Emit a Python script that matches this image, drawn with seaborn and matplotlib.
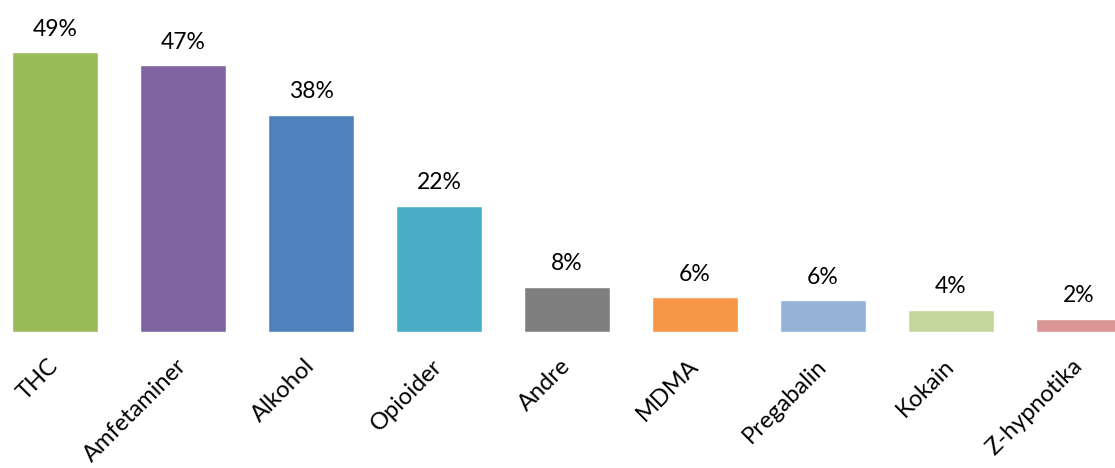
import matplotlib.pyplot as plt
import pandas as pd
import seaborn as sns

substances = ["THC", "Amfetaminer", "Alkohol", "Opioider", "Andre",
              "MDMA", "Pregabalin", "Kokain", "Z-hypnotika"]
shares = [49.0, 46.7, 38.0, 22.1, 7.9, 6.1, 5.6, 3.9, 2.3]
labels = ["49%", "47%", "38%", "22%", "8%", "6%", "6%", "4%", "2%"]
colors = ["#9BBB59", "#8064A2", "#4F81BD", "#4BACC6", "#7F7F7F",
          "#F79646", "#95B3D7", "#C3D69B", "#D99694"]

df = pd.DataFrame({"substance": substances, "share": shares})

sns.set_theme(style="white")
plt.rcParams["font.family"] = ["Lato", "DejaVu Sans"]

fig = plt.figure(figsize=(11.15, 4.68), dpi=100)
ax = fig.add_axes([0, 1 - 332 / 468, 1, 332 / 468])

sns.barplot(data=df, x="substance", y="share", hue="substance",
            palette=colors, width=0.67, saturation=1, legend=False, ax=ax)

for container, lab in zip(ax.containers, labels):
    ax.bar_label(container, labels=[lab], padding=9, fontsize=16.5, color="black")

ax.set_xlim(-55 / 128, 1060 / 128)
ax.set_ylim(0, 49 * 332 / 280)
ax.set(xlabel="", ylabel="", yticks=[])
ax.tick_params(axis="x", length=0, pad=22, labelsize=17, labelcolor="black")
for t in ax.get_xticklabels():
    t.set_rotation(45)
    t.set_ha("right")
    t.set_va("center")
    t.set_rotation_mode("anchor")
sns.despine(ax=ax, left=True, bottom=True)

fig.savefig("out.png", dpi=100)
